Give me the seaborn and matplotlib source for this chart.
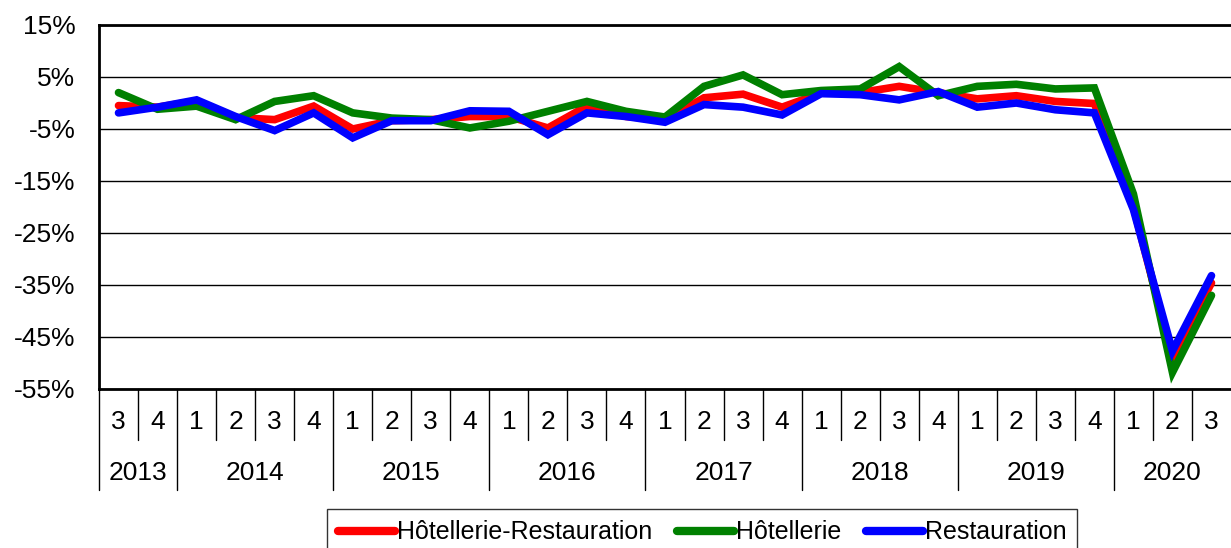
import numpy as np
import pandas as pd
import seaborn as sns
import matplotlib
matplotlib.use("Agg")
import matplotlib.pyplot as plt

# quarters 2013Q3 .. 2020Q3
quarters = [3, 4] + [1, 2, 3, 4] * 6 + [1, 2, 3]
years = ["2013", "2014", "2015", "2016", "2017", "2018", "2019", "2020"]

hotel_resto = [-0.5, -0.8, 0.4, -2.8, -3.2, -0.6, -5.0, -3.4, -3.2, -2.6,
               -2.6, -4.8, -0.6, -2.6, -3.2, 1.0, 1.7, -0.8, 1.9, 2.0,
               3.2, 2.0, 0.8, 1.4, 0.3, -0.1, -20.0, -49.0, -34.6]
hotel = [2.0, -1.2, -0.6, -3.2, 0.3, 1.4, -1.9, -2.9, -3.2, -4.8,
         -3.5, -1.6, 0.3, -1.6, -2.7, 3.2, 5.4, 1.6, 2.4, 2.7,
         7.0, 1.4, 3.2, 3.6, 2.7, 2.9, -17.5, -51.8, -37.0]
resto = [-1.9, -0.8, 0.6, -2.6, -5.3, -1.9, -6.7, -3.4, -3.4, -1.5,
         -1.6, -6.1, -1.9, -2.6, -3.7, -0.3, -0.8, -2.3, 1.8, 1.6,
         0.6, 2.2, -0.8, 0.0, -1.3, -1.9, -20.5, -47.7, -33.2]

series = ["Hôtellerie-Restauration", "Hôtellerie", "Restauration"]
colors = ["#ff0000", "#008000", "#0000ff"]
yticks = [15, 5, -5, -15, -25, -35, -45, -55]

n = len(quarters)
df = pd.DataFrame({
    "idx": list(range(n)) * 3,
    "val": hotel_resto + hotel + resto,
    "serie": [series[0]] * n + [series[1]] * n + [series[2]] * n,
})

sns.set_style("white")
plt.rcParams["font.family"] = ["Liberation Sans", "DejaVu Sans"]
plt.rcParams["text.color"] = "black"
plt.rcParams["xtick.color"] = "black"
plt.rcParams["ytick.color"] = "black"
plt.rcParams["axes.labelcolor"] = "black"

FS = 19      # axis labels
LFS = 18     # legend

fig = plt.figure(figsize=(12.31, 5.48), dpi=100)
W, H = 1231, 548
left, right, top, bottom = 99, 1231, 25, 389
ax = fig.add_axes([left / W, 1 - bottom / H, (right - left) / W, (bottom - top) / H])

sns.lineplot(data=df, x="idx", y="val", hue="serie", hue_order=series,
             palette=colors, linewidth=5.5, ax=ax, legend=True)
for line in ax.lines:
    line.set_solid_capstyle("round")
    line.set_solid_joinstyle("miter")

ax.set_xlim(-0.5, n - 0.5)
ax.set_ylim(-55, 15)
ax.set_yticks(yticks)
ax.set_yticklabels([f"{v}%" for v in yticks], fontsize=FS)
ax.tick_params(axis="y", direction="out", length=7, width=1, pad=10, color="black")
ax.set_xticks([])
ax.set_xlabel("")
ax.set_ylabel("")
ax.yaxis.grid(True, color="black", linewidth=1)
ax.set_axisbelow(True)

for s in ["left", "bottom", "top"]:
    ax.spines[s].set_visible(True)
    ax.spines[s].set_color("black")
    ax.spines[s].set_linewidth(2)
ax.spines["right"].set_visible(False)

# two-level category axis
h_ax = bottom - top
def ay(px):
    return -(px - bottom) / h_ax

tr = ax.get_xaxis_transform()
year_starts = [-0.5]
for i, q in enumerate(quarters):
    ax.text(i, ay(422), str(q), transform=tr, ha="center", va="center",
            fontsize=FS)
    if q == 1:
        year_starts.append(i - 0.5)
for i in range(1, n):
    if quarters[i] != 1:
        ax.plot([i - 0.5, i - 0.5], [0, ay(440)], transform=tr, color="black",
                lw=1, clip_on=False)
for xs in year_starts:
    ax.plot([xs, xs], [0, ay(490)], transform=tr, color="black", lw=1,
            clip_on=False)

bounds = year_starts + [n - 0.5]
for y, a, b in zip(years, bounds[:-1], bounds[1:]):
    ax.text((a + b) / 2, ay(473), y, transform=tr, ha="center", va="center",
            fontsize=FS)

leg = ax.legend(loc="upper center", bbox_to_anchor=(702 / W, 1 - 509 / H),
                bbox_transform=fig.transFigure, ncol=3, fontsize=LFS,
                frameon=True, fancybox=False, edgecolor="black",
                handlelength=2.3, handletextpad=0.05, columnspacing=1.0,
                borderpad=0.45, borderaxespad=0)
leg.get_frame().set_linewidth(1)
for lh in leg.get_lines():
    lh.set_linewidth(6)
    lh.set_solid_capstyle("round")

fig.savefig("out.png", dpi=100)
